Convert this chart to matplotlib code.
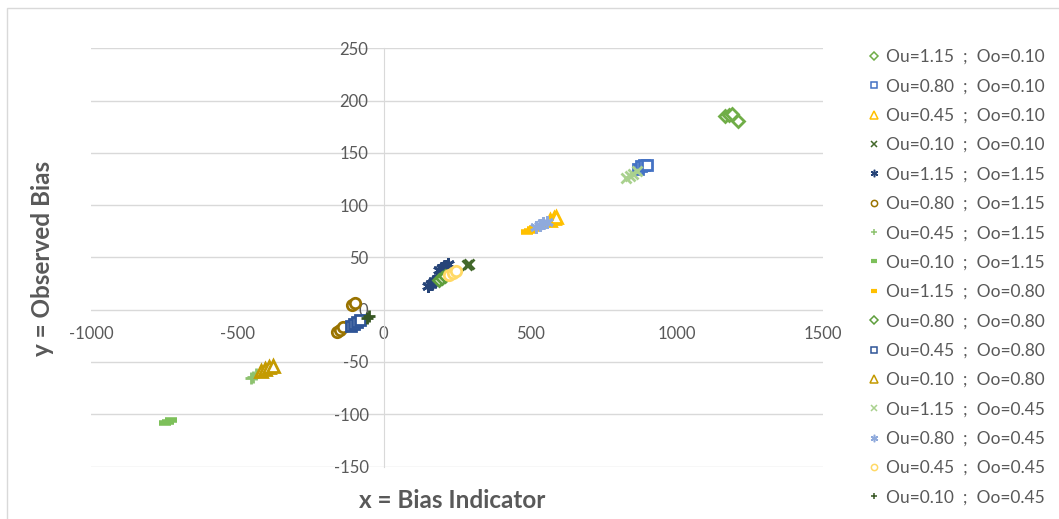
import matplotlib
matplotlib.use("Agg")
import matplotlib.pyplot as plt
from matplotlib.lines import Line2D
from matplotlib.patches import Rectangle

# series labels (Ou ; Oo)
labels = [
    "Ou=1.15  ;  Oo=0.10", "Ou=0.80  ;  Oo=0.10", "Ou=0.45  ;  Oo=0.10", "Ou=0.10  ;  Oo=0.10",
    "Ou=1.15  ;  Oo=1.15", "Ou=0.80  ;  Oo=1.15", "Ou=0.45  ;  Oo=1.15", "Ou=0.10  ;  Oo=1.15",
    "Ou=1.15  ;  Oo=0.80", "Ou=0.80  ;  Oo=0.80", "Ou=0.45  ;  Oo=0.80", "Ou=0.10  ;  Oo=0.80",
    "Ou=1.15  ;  Oo=0.45", "Ou=0.80  ;  Oo=0.45", "Ou=0.45  ;  Oo=0.45", "Ou=0.10  ;  Oo=0.45",
]

# x = bias indicator, y = observed bias, one list per series
xs = [
    [1165, 1178, 1190, 1210],
    [868, 878, 888, 900],
    [568, 580, 588],
    [284, 290],
    [150, 160, 170, 180, 190, 200, 210, 220],
    [-160, -150, -140, -110, -100],
    [-455, -447, -438],
    [-748, -738, -728],
    [490, 500, 510, 518],
    [190, 200, 210],
    [-112, -102, -92, -82],
    [-420, -405, -392, -378],
    [828, 840, 852, 865],
    [520, 532, 545, 557],
    [222, 235, 248],
    [-58, -50],
]
ys = [
    [185, 186, 187, 180],
    [135, 137, 138, 138],
    [86, 88, 89],
    [43, 44],
    [23, 25, 27, 29, 38, 40, 42, 44],
    [-21, -19, -17, 4, 6],
    [-65, -64, -62],
    [-108, -107, -106],
    [74, 75, 77, 78],
    [28, 30, 32],
    [-16, -14, -12, -10],
    [-59, -57, -55, -54],
    [126, 128, 130, 133],
    [79, 81, 83, 84],
    [33, 35, 37],
    [-8, -6],
]

colors = [
    "#70AD47", "#4472C4", "#FFC000", "#43682B",
    "#264478", "#997300", "#8DC26F", "#7DC05A",
    "#FFC000", "#5E9E3C", "#2F5597", "#C49A00",
    "#A9D18E", "#8FAADC", "#FFD966", "#375623",
]
ASTER = (6, 2, 0)
markers = ["D", "s", "^", "x", ASTER, "o", "+", "_",
           "_", "D", "s", "^", "x", ASTER, "o", "+"]
msizes = {"D": 6.5, "s": 7.5, "^": 9, "x": 7, "o": 7.5, "+": 8, "_": 8}

GRID = "#D9D9D9"
TEXT = "#595959"

plt.rcParams["font.family"] = ["Lato", "DejaVu Sans"]
plt.rcParams["axes.unicode_minus"] = False

fig = plt.figure(figsize=(10.59, 5.19), dpi=100)
ax = fig.add_axes([91 / 1059, 1 - 466.5 / 519, 732 / 1059, 418.2 / 519])

handles = []
for x, y, c, m, lab in zip(xs, ys, colors, markers, labels):
    ms = 9 if m == ASTER else msizes[m]
    mew = 4 if m == "_" else 2
    ax.plot(x, y, linestyle="none", marker=m, markersize=ms,
            markeredgecolor=c, markerfacecolor="white", markeredgewidth=mew)
    # smaller, thinner copy for the legend
    handles.append(Line2D([], [], linestyle="none", marker=m, markersize=ms * 0.6,
                          markeredgecolor=c, markerfacecolor="white",
                          markeredgewidth=3 if m == "_" else 1.1))

ax.set_xlim(-1000, 1500)
ax.set_ylim(-150, 250)
ax.set_xticks([-1000, -500, 0, 500, 1000, 1500])
ax.set_yticks(range(-150, 251, 50))

for side in ["top", "right"]:
    ax.spines[side].set_visible(False)
ax.spines["left"].set_position(("data", 0))
ax.spines["left"].set_color(GRID)
ax.spines["bottom"].set_position(("data", 0))
ax.spines["bottom"].set_visible(False)

ax.yaxis.grid(True, color=GRID, linewidth=1)
ax.set_axisbelow(True)
ax.tick_params(axis="y", length=0, pad=11, labelsize=12, labelcolor=TEXT)
ax.tick_params(axis="x", length=0, pad=12, labelsize=12, labelcolor=TEXT)

fig.text(452 / 1059, 1 - 500 / 519, "x = Bias Indicator", ha="center", va="center",
         fontsize=17.5, fontweight="bold", color=TEXT)
fig.text(43 / 1059, 1 - 258 / 519, "y = Observed Bias", ha="center", va="center",
         rotation=90, fontsize=17.5, fontweight="bold", color=TEXT)

fig.legend(handles=handles, labels=labels, loc="upper left",
           bbox_to_anchor=(860 / 1059, 1 - 42 / 519),
           frameon=False, fontsize=12.5, labelcolor=TEXT,
           handlelength=0.8, handletextpad=0.3, labelspacing=0.77, borderaxespad=0)

fig.add_artist(Rectangle((7 / 1059, -0.1), 2, 1 - 8 / 519 + 0.1, transform=fig.transFigure,
                         fill=False, edgecolor=GRID, linewidth=1))

fig.savefig("out.png", dpi=100)
